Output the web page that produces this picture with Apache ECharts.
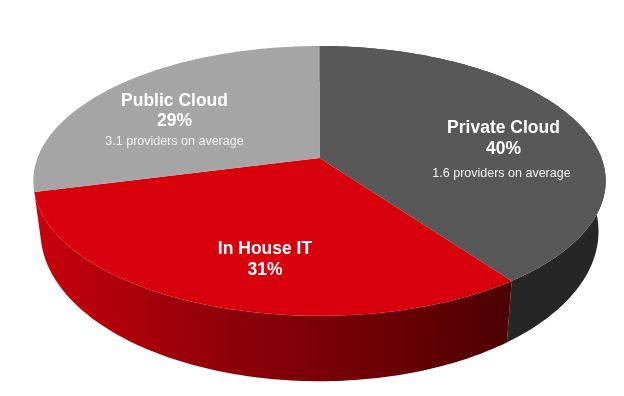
<!DOCTYPE html>
<html>
<head>
<meta charset="utf-8">
<style>
  html, body { margin: 0; padding: 0; background: #fff; }
  #chart { width: 624px; height: 396px; }
</style>
</head>
<body>
<div id="chart"></div>
<script src="https://cdn.jsdelivr.net/npm/echarts@6/dist/echarts.min.js"></script>
<script>
const categories = ['Private Cloud', 'In House IT', 'Public Cloud']
const shares = [40, 31, 29]
const providerNotes = ['1.6 providers on average', '', '3.1 providers on average']

const topColors = ['#585858', '#d9000d', '#a5a5a5']

// perspective of the tilted disc
const cx = 319.5
const cy = 158
const rx = 282
const ry = 131
const tilt = 0.17
const baseDrop = 48
const baseScaleX = 0.975
const baseScaleY = 1.11

// text placement per slice: [title x, title y, percent y, note x, note y]
const labelSpots = [
  [503.5, 128, 149, 501.5, 174],
  [265, 249, 270, 0, 0],
  [174.5, 101, 121, 174.5, 142]
]

const total = shares.reduce((a, b) => a + b, 0)

function rimPoint(deg, base) {
  const a = (deg * Math.PI) / 180
  const u = Math.sin(a)
  const v = -Math.cos(a)
  const d = 1 - tilt * v
  if (base) {
    return [cx + (baseScaleX * rx * u) / d, cy + baseDrop + (baseScaleY * ry * v) / d]
  }
  return [cx + (rx * u) / d, cy + (ry * v) / d]
}

function arcPoints(from, to, base) {
  const pts = []
  const steps = Math.ceil(to - from)
  for (let i = 0; i <= steps; i++) {
    pts.push(rimPoint(from + ((to - from) * i) / steps, base))
  }
  return pts
}

function sliceAngles(index) {
  let before = 0
  for (let i = 0; i < index; i++) before += shares[i]
  return [(before / total) * 360, ((before + shares[index]) / total) * 360]
}

function sideFill(index) {
  if (index === 0) return '#262626'
  return new echarts.graphic.LinearGradient(34, 0, 510, 0, [
    { offset: 0, color: '#c8000c' },
    { offset: 0.35, color: '#95000a' },
    { offset: 0.7, color: '#6f0006' },
    { offset: 1, color: '#4c0000' }
  ], true)
}

function renderSide(params) {
  const i = params.dataIndex
  // the public cloud slice sits at the back, its wall never shows
  if (i === 2) return { type: 'group', children: [] }
  const [from, to] = sliceAngles(i)
  const points = arcPoints(from, to, false).concat(arcPoints(from, to, true).reverse())
  return {
    type: 'polygon',
    shape: { points: points },
    style: { fill: sideFill(i) }
  }
}

function renderTop(params) {
  const i = params.dataIndex
  const [from, to] = sliceAngles(i)
  const points = [[cx, cy]].concat(arcPoints(from, to, false))
  const spot = labelSpots[i]
  const boldText = (text, y) => ({
    type: 'text',
    style: {
      text: text,
      x: spot[0],
      y: y,
      align: 'center',
      verticalAlign: 'middle',
      fill: '#ffffff',
      font: 'bold 17.5px "Liberation Sans", Arial, sans-serif'
    }
  })
  const children = [
    { type: 'polygon', shape: { points: points }, style: { fill: topColors[i] } },
    boldText(categories[i], spot[1]),
    boldText(shares[i] + '%', spot[2])
  ]
  if (providerNotes[i]) {
    children.push({
      type: 'text',
      style: {
        text: providerNotes[i],
        x: spot[3],
        y: spot[4],
        align: 'center',
        verticalAlign: 'middle',
        fill: '#f2f2f2',
        font: '12.5px "Liberation Sans", Arial, sans-serif'
      }
    })
  }
  return { type: 'group', children: children }
}

const chart = echarts.init(document.getElementById('chart'))

chart.setOption({
  backgroundColor: '#ffffff',
  animation: false,
  tooltip: { show: false },
  series: [
    {
      type: 'custom',
      coordinateSystem: 'none',
      z: 1,
      silent: true,
      renderItem: renderSide,
      data: shares
    },
    {
      type: 'custom',
      coordinateSystem: 'none',
      z: 2,
      silent: true,
      renderItem: renderTop,
      data: shares
    }
  ]
})
</script>
</body>
</html>
